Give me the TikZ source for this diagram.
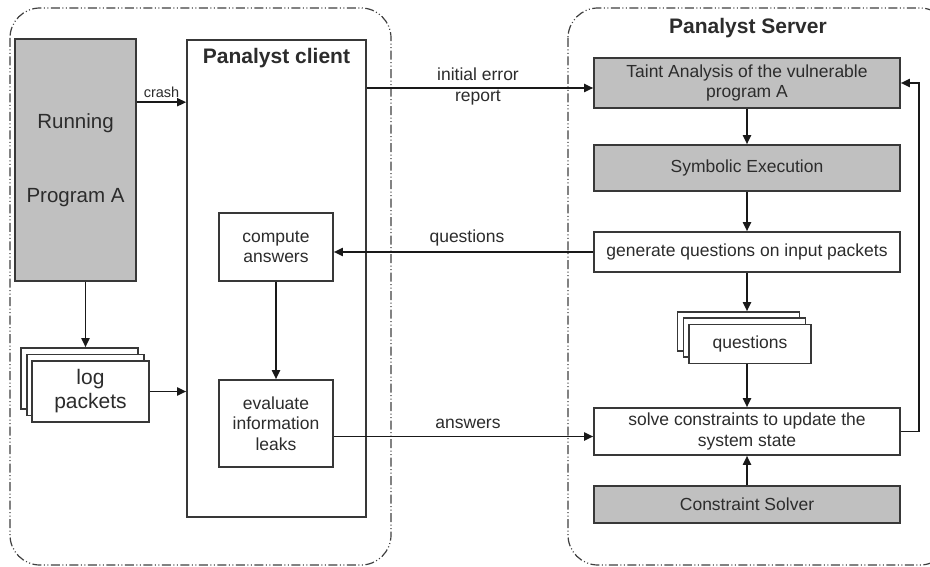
\documentclass[tikz,border=0pt]{standalone}
\usepackage{fontspec}
\setmainfont{Liberation Sans}
\usetikzlibrary{arrows.meta,calc}
\definecolor{boxgray}{HTML}{C0C0C0}
\definecolor{edge}{HTML}{383838}
\definecolor{txt}{HTML}{2C2C2C}
\definecolor{frame}{HTML}{404040}
\begin{document}
\begin{tikzpicture}[x=1pt,y=-1pt,
  every node/.style={text=txt},
  box/.style={draw=edge, line width=1.6pt, rectangle, inner sep=0pt, align=center, fill=white,
    font=\fontsize{17.5}{20.5}\selectfont},
  graybox/.style={box, fill=boxgray},
  conn/.style={draw=black!90, line width=1.8pt, -{Triangle[length=9pt,width=8pt]}},
  container/.style={draw=frame, line width=1.2pt, rounded corners=30pt,
    dash pattern=on 9pt off 2.5pt on 1pt off 2.5pt on 1pt off 2.5pt},
  lbl/.style={font=\fontsize{17.5}{21}\selectfont, align=center, inner sep=0pt},
  ttl/.style={font=\fontsize{21}{25}\selectfont\bfseries, inner sep=0pt}
]
\fill[white] (0,0) rectangle (930,567);
\clip (0,0) rectangle (930,567);

% containers
\draw[container] (10,8) rectangle (391,565);
\draw[container] (568,8) rectangle (950,565);

% left side
\node[graybox, minimum width=121pt, minimum height=242pt, font=\fontsize{20.5}{74}\selectfont] (run) at (75.5,160) {Running\\Program A};
\node[box, minimum width=179pt, minimum height=477pt] (client) at (276.5,278.5) {};
\node[ttl] (clientttl) at (276.5,58) {Panalyst client};
\node[box, minimum width=114pt, minimum height=68pt] (ca) at (276,247) {compute\\answers};
\node[box, minimum width=114pt, minimum height=87pt] (ev) at (276,423.5) {evaluate\\information\\leaks};

% log packets stack
\node[box, minimum width=117pt, minimum height=61pt] (logB) at (79.5,378.5) {};
\node[box, minimum width=117pt, minimum height=61pt] (logM) at (85.5,385) {};
\node[box, minimum width=117pt, minimum height=61pt, font=\fontsize{21}{24}\selectfont] (logF) at (90.5,391.5) {log\\packets};

% server side
\node[ttl] (serverttl) at (748,28) {Panalyst Server};
\node[graybox, minimum width=306pt, minimum height=50pt] (taint) at (747,83) {Taint Analysis of the vulnerable\\program A};
\node[graybox, minimum width=306pt, minimum height=46pt] (sym) at (747,168) {Symbolic Execution};
\node[box, minimum width=306pt, minimum height=40pt] (gen) at (747,252) {generate questions on input packets};
\node[box, minimum width=122pt, minimum height=39pt] (qB) at (738.5,331.5) {};
\node[box, minimum width=122pt, minimum height=39pt] (qM) at (744.5,337.5) {};
\node[box, minimum width=122pt, minimum height=39pt] (qF) at (750,344) {questions};
\node[box, minimum width=306pt, minimum height=47pt] (solve) at (747,431.5) {solve constraints to update the\\system state};
\node[graybox, minimum width=306pt, minimum height=37pt] (cs) at (747,504.5) {Constraint Solver};

% connectors
\draw[conn] ([yshift=-64pt]run.north east) -- ([yshift=-64pt]run.north east -| client.west)
  node[midway, above=4pt, font=\fontsize{14.5}{16}\selectfont, inner sep=0pt] (crashlbl) {crash};
\draw[conn] (logM.north |- run.south) -- (logB.north -| logM.north);
\draw[conn] (logF.east) -- (logF.east -| client.west);
\draw[conn] (ca.south) -- (ev.north);
\draw[conn] ([yshift=-5pt]taint.west -| client.east) -- ([yshift=-5pt]taint.west);
\node[lbl] (errlbl) at (478,86.5) {initial error\\report};
\draw[conn] (gen.west) -- (gen.west -| ca.east);
\node[lbl] (qlbl) at (467,238) {questions};
\draw[conn] ([yshift=-5pt]solve.west -| ev.east) -- ([yshift=-5pt]solve.west);
\node[lbl] (albl) at (468,424) {answers};
\draw[conn] (taint.south) -- (sym.north);
\draw[conn] (sym.south) -- (gen.north);
\draw[conn] (gen.south) -- (gen.south |- qB.north);
\draw[conn] (solve.north |- qF.south) -- (solve.north);
\draw[conn] (cs.north) -- (solve.south);
\draw[conn] (solve.east) -- ++(18,0) |- (taint.east);
\end{tikzpicture}
\end{document}
